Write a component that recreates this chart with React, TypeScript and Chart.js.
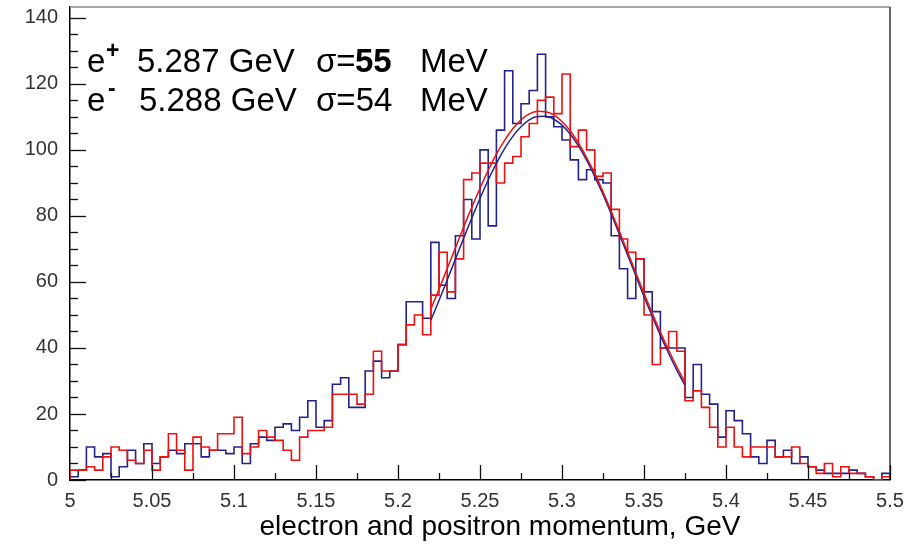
import { useEffect, useRef } from 'react';
import { Chart, registerables } from 'chart.js';

Chart.register(...registerables);

// ---- data ----
const BIN_START = 5.0;
const BIN_WIDTH = 0.005;

// e+ (red) counts per 5 MeV bin, 5.000 .. 5.500 GeV
const ePlusCounts = [
  3, 3, 4, 3, 7, 10, 9, 6, 5, 9,
  3, 7, 14, 9, 3, 13, 10, 9, 14, 14,
  19, 8, 10, 15, 13, 12, 9, 6, 13, 15,
  15, 16, 26, 26, 26, 23, 26, 39, 33, 33,
  41, 47, 50, 44, 56, 69, 57, 67, 91, 93,
  96, 96, 90, 96, 98, 104, 108, 115, 116, 111,
  123, 101, 106, 100, 92, 93, 82, 73, 69, 67,
  50, 35, 40, 45, 39, 24, 27, 22, 16, 10,
  16, 10, 7, 10, 10, 10, 7, 7, 10, 5,
  4, 2, 5, 1, 4, 2, 2, 1, 0, 1,
];

// e- (blue) counts per 5 MeV bin
const eMinusCounts = [
  1, 3, 10, 7, 8, 1, 4, 9, 5, 11,
  5, 7, 9, 8, 11, 11, 7, 9, 9, 8,
  10, 5, 11, 13, 12, 16, 17, 15, 19, 24,
  16, 18, 29, 31, 22, 22, 33, 36, 31, 33,
  41, 54, 54, 49, 72, 59, 55, 74, 85, 73,
  100, 77, 106, 124, 108, 114, 118, 129, 110, 107,
  103, 97, 91, 94, 91, 90, 74, 64, 55, 67,
  57, 51, 40, 40, 40, 25, 35, 26, 23, 13,
  21, 18, 14, 7, 5, 12, 7, 9, 5, 7,
  4, 3, 2, 2, 2, 3, 2, 1, 0, 2,
];

// fitted curves
const fitX = [
  5.22, 5.225, 5.23, 5.235, 5.24, 5.245, 5.25, 5.255, 5.26, 5.265, 5.27,
  5.275, 5.28, 5.285, 5.29, 5.295, 5.3, 5.305, 5.31, 5.315, 5.32, 5.325,
  5.33, 5.335, 5.34, 5.345, 5.35, 5.355, 5.36, 5.365, 5.37, 5.375,
];
const ePlusFit = [
  51.8, 57.8, 64.1, 70.3, 76.6, 82.6, 88.4, 93.8, 98.7, 102.9, 106.4,
  109.1, 110.9, 111.7, 111.6, 110.6, 108.6, 105.8, 102.1, 97.7, 92.8, 87.3,
  81.4, 75.3, 69.1, 62.8, 56.6, 50.6, 44.8, 39.4, 34.3, 29.6,
];
const eMinusFit = [
  48.4, 54.4, 60.6, 66.9, 73.2, 79.4, 85.3, 90.9, 95.9, 100.4, 104.1,
  107.0, 109.1, 110.1, 110.2, 109.3, 107.5, 104.8, 101.2, 96.9, 91.9, 86.5,
  80.6, 74.4, 68.2, 61.9, 55.6, 49.6, 43.8, 38.4, 33.3, 28.7,
];

const X_MIN = 5.0;
const X_MAX = 5.5;
const X_LABEL_STEP = 0.05;
const X_MINOR_STEP = 0.025;
const Y_MIN = 0;
const Y_MAX = 143.3;
const Y_LABEL_STEP = 20;
const Y_MINOR_STEP = 5;
const Y_TOP_TICK = 140;

const X_TITLE = 'electron and positron momentum, GeV';

const RED = '#ee1111';
const BLUE = '#23238c';

function histPoints(counts: number[]) {
  const pts: { x: number; y: number }[] = [{ x: BIN_START, y: 0 }];
  counts.forEach((c, i) => pts.push({ x: BIN_START + i * BIN_WIDTH, y: c }));
  const end = BIN_START + counts.length * BIN_WIDTH;
  pts.push({ x: end, y: counts[counts.length - 1] });
  pts.push({ x: end, y: 0 });
  return pts;
}

function curvePoints(xs: number[], ys: number[]) {
  return xs.map((x, i) => ({ x, y: ys[i] }));
}

const FONT = '"Liberation Sans", Arial, Helvetica, sans-serif';

const framePlugin = {
  id: 'rootFrame',
  afterDraw(chart: any) {
    const { ctx, chartArea } = chart;
    const { left, right, top, bottom } = chartArea;
    const xs = chart.scales.x;
    const ys = chart.scales.y;
    ctx.save();
    // frame
    ctx.lineWidth = 1.5;
    ctx.strokeStyle = '#8a8a8a';
    ctx.beginPath();
    ctx.moveTo(left, top);
    ctx.lineTo(right, top);
    ctx.stroke();
    ctx.strokeStyle = '#333';
    ctx.beginPath();
    ctx.moveTo(right, top);
    ctx.lineTo(right, bottom);
    ctx.stroke();
    // y ticks (inward)
    ctx.strokeStyle = '#111';
    ctx.lineWidth = 1.3;
    for (let v = Y_MIN; v <= Y_TOP_TICK + 0.001; v += Y_MINOR_STEP) {
      const py = Math.round(ys.getPixelForValue(v)) + 0.5;
      const len = Math.abs(v % Y_LABEL_STEP) < 0.001 ? 16 : 8;
      ctx.beginPath();
      ctx.moveTo(left, py);
      ctx.lineTo(left + len, py);
      ctx.stroke();
    }
    // x ticks (inward)
    const n = Math.round((X_MAX - X_MIN) / X_MINOR_STEP);
    for (let k = 1; k <= n; k++) {
      const v = X_MIN + k * X_MINOR_STEP;
      const px = Math.round(xs.getPixelForValue(v)) + 0.5;
      const len = k % 2 === 0 ? 15 : 7;
      ctx.beginPath();
      ctx.moveTo(px, bottom);
      ctx.lineTo(px, bottom - len);
      ctx.stroke();
    }
    // axis title
    ctx.fillStyle = '#000';
    ctx.font = `28px ${FONT}`;
    ctx.textAlign = 'center';
    ctx.textBaseline = 'alphabetic';
    ctx.fillText(X_TITLE, 500, 535);

    // legend text
    ctx.textAlign = 'left';
    const big = `33px ${FONT}`;
    const bigBold = `bold 33px ${FONT}`;
    const sup = `bold 23px ${FONT}`;
    const y1 = 72;
    const y2 = 111;
    ctx.font = big;
    ctx.fillText('e', 87, y1);
    ctx.font = sup;
    ctx.fillText('+', 106, y1 - 14);
    ctx.font = big;
    ctx.fillText('5.287 GeV', 137, y1);
    ctx.fillText('\u03c3=', 316, y1);
    ctx.font = bigBold;
    ctx.fillText('55', 355, y1);
    ctx.font = big;
    ctx.fillText('MeV', 420, y1);

    ctx.fillText('e', 87, y2);
    ctx.font = sup;
    ctx.fillText('-', 108, y2 - 15);
    ctx.font = big;
    ctx.fillText('5.288 GeV', 139, y2);
    ctx.fillText('\u03c3=54', 316, y2);
    ctx.fillText('MeV', 420, y2);
    ctx.restore();
  },
};

export default function App() {
  const canvasRef = useRef<HTMLCanvasElement | null>(null);

  useEffect(() => {
    const canvas = canvasRef.current;
    if (!canvas) return;
    const chart = new Chart(canvas, {
      type: 'line',
      data: {
        datasets: [
          {
            label: 'e+ fit',
            data: curvePoints(fitX, ePlusFit),
            borderColor: RED,
            borderWidth: 1.5,
            pointRadius: 0,
            cubicInterpolationMode: 'monotone',
            fill: false,
          },
          {
            label: 'e- fit',
            data: curvePoints(fitX, eMinusFit),
            borderColor: BLUE,
            borderWidth: 1.5,
            pointRadius: 0,
            cubicInterpolationMode: 'monotone',
            fill: false,
          },
          {
            label: 'e+',
            data: histPoints(ePlusCounts),
            borderColor: RED,
            borderWidth: 1.6,
            pointRadius: 0,
            stepped: 'before',
            fill: false,
          },
          {
            label: 'e-',
            data: histPoints(eMinusCounts),
            borderColor: BLUE,
            borderWidth: 1.6,
            pointRadius: 0,
            stepped: 'before',
            fill: false,
          },
        ],
      },
      options: {
        animation: false,
        responsive: false,
        events: [],
        layout: { padding: { top: 7, right: 17, left: 0, bottom: 0 } },
        plugins: {
          legend: { display: false },
          tooltip: { enabled: false },
        },
        scales: {
          x: {
            type: 'linear',
            min: X_MIN,
            max: X_MAX,
            grid: { display: false, drawTicks: false },
            border: { display: true, color: '#000', width: 1.5 },
            ticks: {
              stepSize: X_LABEL_STEP,
              padding: 9,
              color: '#333',
              font: { family: FONT, size: 20 },
              maxRotation: 0,
              autoSkip: false,
              includeBounds: false,
              callback: (v: any) => String(+Number(v).toFixed(3)),
            },
            afterFit: (s: any) => {
              s.height = 66;
              s.paddingLeft = 0;
              s.paddingRight = 0;
            },
          },
          y: {
            type: 'linear',
            min: Y_MIN,
            max: Y_MAX,
            grid: { display: false, drawTicks: false },
            border: { display: true, color: '#000', width: 1.5 },
            ticks: {
              stepSize: Y_LABEL_STEP,
              padding: 12,
              color: '#333',
              font: { family: FONT, size: 20 },
              autoSkip: false,
              includeBounds: false,
            },
            afterFit: (s: any) => {
              s.width = 70;
              s.paddingTop = 0;
              s.paddingBottom = 0;
            },
          },
        },
      },
      plugins: [framePlugin],
    } as any);
    return () => chart.destroy();
  }, []);

  return (
    <div style={{ position: 'absolute', left: 0, top: 0, width: 907, height: 546, background: '#fff' }}>
      <canvas ref={canvasRef} width={907} height={546} style={{ width: 907, height: 546, display: 'block' }} />
    </div>
  );
}
